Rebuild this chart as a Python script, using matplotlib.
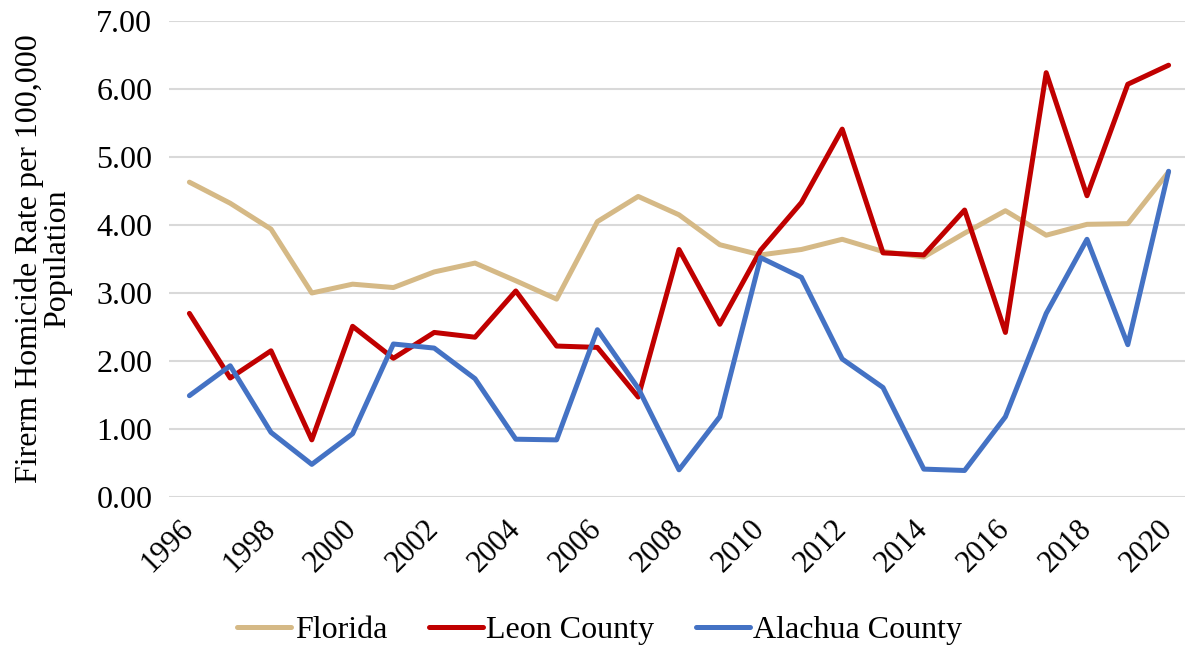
import numpy as np
import matplotlib.pyplot as plt

years = list(range(1996, 2021))
florida = [4.63, 4.32, 3.94, 3.00, 3.13, 3.08, 3.31, 3.44, 3.18, 2.91, 4.05, 4.42, 4.15,
           3.71, 3.56, 3.64, 3.79, 3.61, 3.53, 3.88, 4.21, 3.85, 4.01, 4.02, 4.78]
leon = [2.70, 1.75, 2.15, 0.84, 2.51, 2.04, 2.42, 2.35, 3.03, 2.22, 2.20, 1.47, 3.64,
        2.54, 3.63, 4.33, 5.41, 3.59, 3.56, 4.22, 2.42, 6.24, 4.43, 6.07, 6.35]
alachua = [1.49, 1.93, 0.95, 0.48, 0.93, 2.25, 2.19, 1.74, 0.85, 0.84, 2.46, 1.60, 0.40,
           1.18, 3.52, 3.23, 2.03, 1.61, 0.41, 0.39, 1.18, 2.70, 3.79, 2.24, 4.79]

plt.rcParams['font.family'] = ['Liberation Serif', 'DejaVu Serif']

fig = plt.figure(figsize=(11.85, 6.52), dpi=100)
ax = fig.add_axes([169 / 1185, 1 - 497 / 652, (1189 - 169) / 1185, (497 - 21) / 652])

x = np.arange(len(years))
ax.plot(x, florida, color='#D5B986', linewidth=3.6, label='Florida', solid_capstyle='round')
ax.plot(x, leon, color='#C00000', linewidth=3.6, label='Leon County', solid_capstyle='round')
ax.plot(x, alachua, color='#4472C4', linewidth=3.6, label='Alachua County', solid_capstyle='round')

ax.set_xlim(-0.5, len(years) - 0.5)
ax.set_ylim(0, 7)
ax.set_yticks(np.arange(0, 7.01, 1))
ax.set_yticklabels(['%.2f' % v for v in np.arange(0, 7.01, 1)], fontsize=23)
ax.set_xticks(x[::2])
ax.set_xticklabels([str(y) for y in years[::2]], fontsize=22, rotation=45,
                   ha='right', va='center', rotation_mode='anchor')
ax.tick_params(axis='both', length=0)
ax.tick_params(axis='y', pad=12)
ax.tick_params(axis='x', pad=20)
ax.grid(axis='y', color='#D9D9D9', linewidth=1.5)
ax.set_axisbelow(True)
for s in ax.spines.values():
    s.set_visible(False)

ax.set_ylabel('Firerm Homicide Rate per 100,000\nPopulation', fontsize=23, linespacing=0.95)
ax.yaxis.set_label_coords(-0.095, 0.5)

leg = fig.legend(loc='center', bbox_to_anchor=(0.506, 0.033), ncol=3, frameon=False,
                 fontsize=23, handlelength=1.7, handletextpad=0.1, columnspacing=1.3)

fig.savefig('out.png', dpi=100)
